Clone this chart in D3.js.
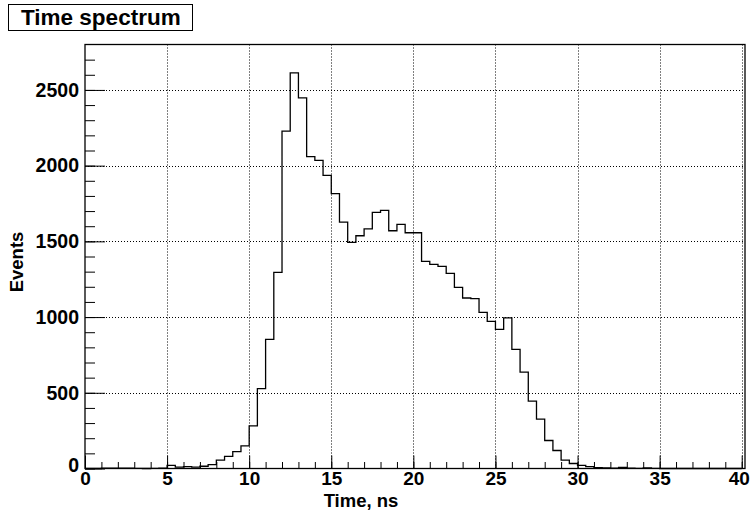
<!DOCTYPE html>
<html>
<head>
<meta charset="utf-8">
<script src="https://cdn.jsdelivr.net/npm/d3@7"></script>
<style>
  body { margin: 0; background: #fff; }
  svg { display: block; font-family: "Liberation Sans", Arial, Helvetica, sans-serif; font-weight: bold; }
</style>
</head>
<body>
<svg width="751" height="513"></svg>
<script>
// Bins de 0.5 ns, de 0 a 40 ns
const binEdges = d3.range(0, 40.5, 0.5);

// Nombre d'evenements par bin
const counts = [
  0, 0, 2, 3, 3, 2, 1, 0, 1, 3,
  20, 9, 13, 9, 15, 26, 55, 80, 112, 150,
  282, 527, 853, 1295, 2228, 2612, 2447, 2059, 2035, 1936,
  1815, 1627, 1493, 1537, 1583, 1691, 1705, 1570, 1612, 1557,
  1557, 1368, 1348, 1335, 1289, 1196, 1126, 1122, 1031, 971,
  919, 995, 787, 637, 445, 326, 185, 119, 55, 33,
  20, 12, 6, 4, 2, 8, 2, 1, 4, 1,
  0, 0, 0, 0, 0, 0, 0, 0, 0, 0
];

// Graduations
const xMajorTicks = [0, 5, 10, 15, 20, 25, 30, 35, 40];
const xMinorTicks = d3.range(0, 41, 1);
const yMajorTicks = [0, 500, 1000, 1500, 2000, 2500];
const yMinorTicks = d3.range(0, 2800, 100);

const titleText = "Time spectrum";
const xTitle = "Time, ns";
const yTitle = "Events";

const svg = d3.select("svg");

// Cadre du graphe
const frameLeft = 85, frameRight = 745, frameTop = 44.5, frameBottom = 468.5;

const x = d3.scaleLinear().domain([0, 40.2]).range([frameLeft, frameRight]);
const y = d3.scaleLinear().domain([0, 2800]).range([frameBottom, frameTop]);

// Grille pointillee
svg.append("g")
  .selectAll("line")
  .data(xMajorTicks.filter(d => d > 0))
  .join("line")
  .attr("x1", d => Math.round(x(d)) + 0.5)
  .attr("x2", d => Math.round(x(d)) + 0.5)
  .attr("y1", frameTop)
  .attr("y2", frameBottom)
  .attr("stroke", "#000")
  .attr("stroke-width", 1)
  .attr("stroke-dasharray", "1,2");

svg.append("g")
  .selectAll("line")
  .data(yMajorTicks.filter(d => d > 0))
  .join("line")
  .attr("x1", frameLeft)
  .attr("x2", frameRight)
  .attr("y1", d => Math.round(y(d)) + 0.5)
  .attr("y2", d => Math.round(y(d)) + 0.5)
  .attr("stroke", "#000")
  .attr("stroke-width", 1)
  .attr("stroke-dasharray", "1,2");

// Histogramme en escalier
const points = counts.map((c, i) => [binEdges[i], c]);
points.push([binEdges[counts.length], counts[counts.length - 1]]);

const line = d3.line()
  .x(d => x(d[0]))
  .y(d => y(d[1]))
  .curve(d3.curveStepAfter);

svg.append("path")
  .datum(points)
  .attr("d", line)
  .attr("fill", "none")
  .attr("stroke", "#000")
  .attr("stroke-width", 1.3);

// Cadre
svg.append("rect")
  .attr("x", frameLeft)
  .attr("y", frameTop)
  .attr("width", frameRight - frameLeft)
  .attr("height", frameBottom - frameTop)
  .attr("fill", "none")
  .attr("stroke", "#000")
  .attr("stroke-width", 1.3);

// Axe X : petites graduations puis grandes avec les labels
svg.append("g")
  .attr("transform", `translate(0,${frameBottom})`)
  .call(d3.axisBottom(x).tickValues(xMinorTicks).tickSize(-6.5).tickFormat(""))
  .call(g => g.select(".domain").remove());

const xAxis = svg.append("g")
  .attr("transform", `translate(0,${frameBottom})`)
  .call(d3.axisBottom(x).tickValues(xMajorTicks).tickSize(-13).tickPadding(3).tickFormat(d3.format("d")));
xAxis.select(".domain").remove();
xAxis.selectAll("text")
  .attr("font-size", 19)
  .attr("font-family", "'Liberation Sans', Arial, sans-serif")
  .attr("font-weight", "bold")
  .attr("fill", "#000");
xAxis.selectAll(".tick").filter(d => d === 40).select("text").attr("dx", -3);

// Axe Y
svg.append("g")
  .attr("transform", `translate(${frameLeft},0)`)
  .call(d3.axisLeft(y).tickValues(yMinorTicks).tickSize(-10).tickFormat(""))
  .call(g => g.select(".domain").remove());

const yAxis = svg.append("g")
  .attr("transform", `translate(${frameLeft},0)`)
  .call(d3.axisLeft(y).tickValues(yMajorTicks).tickSize(-20).tickPadding(6).tickFormat(d3.format("d")));
yAxis.select(".domain").remove();
yAxis.selectAll("text")
  .attr("font-size", 19.5)
  .attr("font-family", "'Liberation Sans', Arial, sans-serif")
  .attr("font-weight", "bold")
  .attr("fill", "#000");
yAxis.selectAll(".tick").filter(d => d === 0).select("text").attr("dy", "0.15em");

// Titres des axes
svg.append("text")
  .attr("x", 361)
  .attr("y", 507)
  .attr("text-anchor", "middle")
  .attr("font-size", 18.5)
  .text(xTitle);

svg.append("text")
  .attr("transform", "translate(23,262) rotate(-90)")
  .attr("text-anchor", "middle")
  .attr("font-size", 18.5)
  .text(yTitle);

// Boite du titre
svg.append("rect")
  .attr("x", 8.5)
  .attr("y", 4.5)
  .attr("width", 184)
  .attr("height", 26)
  .attr("fill", "#fff")
  .attr("stroke", "#000")
  .attr("stroke-width", 1);

svg.append("text")
  .attr("x", 21)
  .attr("y", 25)
  .attr("font-size", 22.5)
  .text(titleText);
</script>
</body>
</html>
